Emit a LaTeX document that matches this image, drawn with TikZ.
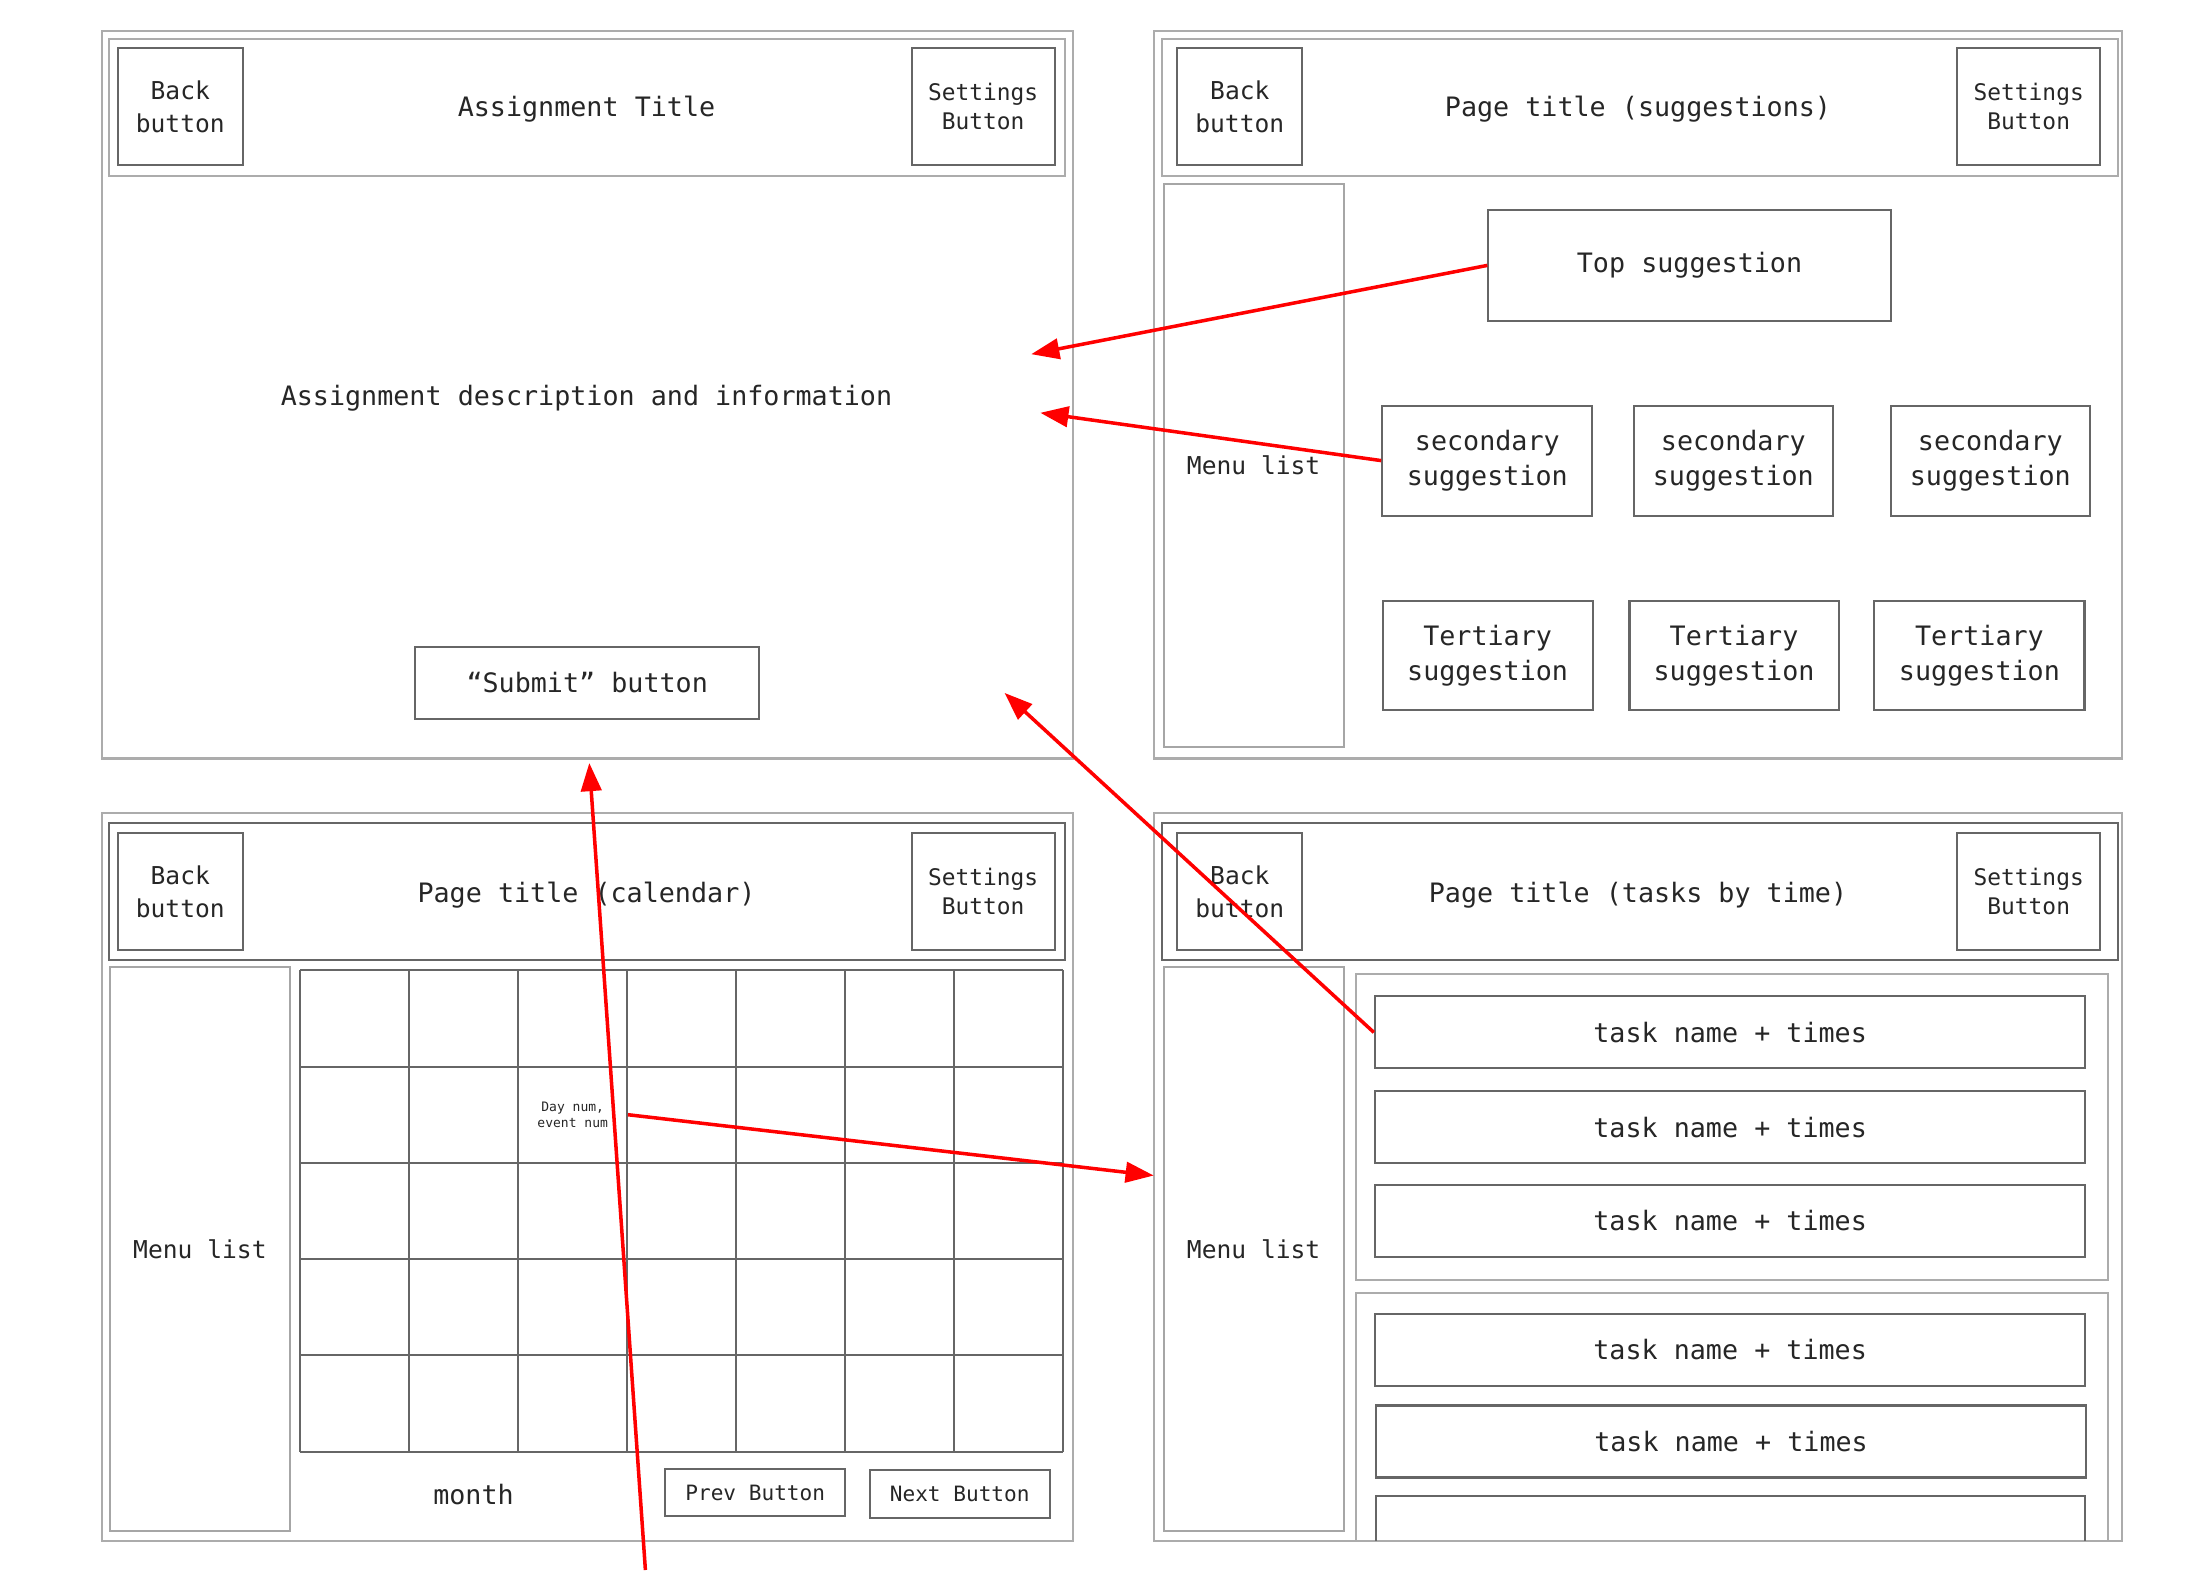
\documentclass[tikz,border=0pt]{standalone}
\usepackage{fontspec}
\setmonofont{DejaVu Sans Mono}
\usepackage{tikz}
\usetikzlibrary{arrows.meta}
\newcommand{\wfmain}{\ttfamily\fontsize{7.6}{9.9}\selectfont}
\newcommand{\wfback}{\ttfamily\fontsize{7.0}{9.4}\selectfont}
\newcommand{\wfsettings}{\ttfamily\fontsize{6.5}{8.2}\selectfont}
\newcommand{\wfbtn}{\ttfamily\fontsize{6.0}{7.5}\selectfont}
\newcommand{\wfday}{\ttfamily\fontsize{3.7}{4.6}\selectfont}
\tikzset{
%Define standard arrow tip
>={Triangle[length=8pt,width=5.8pt]},
%Define styles for screens, boxes and links
screen line/.style={draw=gray!65, line width=0.6pt},
box line/.style={draw=black!60, line width=0.6pt},
ui text/.style={inner sep=0pt, align=center, text=black!85, font=\wfmain},
ui box/.style={ui text, box line},
back box/.style={ui box, font=\wfback, minimum width=1.25cm, minimum height=1.17cm},
settings box/.style={ui box, font=\wfsettings, minimum width=1.43cm, minimum height=1.17cm},
menu box/.style={ui box, draw=gray!70, font=\wfback, minimum width=1.80cm, minimum height=5.63cm},
task box/.style={ui box, minimum width=7.10cm, minimum height=0.72cm},
link/.style={->, red, line width=1pt}, }

\begin{document}
\begin{tikzpicture}[x=0.01cm, y=-0.01cm]
\useasboundingbox (0,0) rectangle (2207,1570);

% Assignment screen
\draw[screen line] (101.7,30.8) rectangle (1073.3,758.5);
\draw[screen line] (108.7,38.8) rectangle (1064.9,175.6);
\node[back box] (backA) at (180.3,106.9) {Back\\button};
\node[settings box] (setA) at (983.2,106.9) {Settings\\Button};
\node[ui text] (titleA) at (586.5,109.4) {Assignment Title};
\node[ui text] (descA) at (586.5,397.9) {Assignment description and information};
\node[ui box, minimum width=3.44cm, minimum height=0.72cm] (submit) at
(587.2,682.7) {“Submit” button};

\path coordinate (inTop) at (1031.2,354.2) coordinate (inSec) at
(1040.3,412.8) coordinate (inTask) at (1004.5,692.9) coordinate
(inCal) at (589.3,763);

% Suggestions screen
\draw[screen line] (1153.7,30.8) rectangle (2122.3,758.5);
\draw[screen line] (1162.1,38.8) rectangle (2118,175.6);
\node[back box] (backB) at (1239.8,106.9) {Back\\button};
\node[settings box] (setB) at (2028.7,106.9) {Settings\\Button};
\node[ui text] (titleB) at (1638,109.4) {Page title (suggestions)};
\node[menu box] (menuB) at (1253.6,465.6) {Menu list};

\node[ui box, minimum width=4.02cm, minimum height=1.11cm] (top) at
(1689.5,265.4) {Top suggestion};
\node[ui box, minimum width=2.10cm, minimum height=1.10cm] (sec1) at
(1487.3,460.6) {secondary\\suggestion};
\node[ui box, minimum width=1.99cm, minimum height=1.10cm] (sec2) at
(1733.3,460.6) {secondary\\suggestion};
\node[ui box, minimum width=1.99cm, minimum height=1.10cm] (sec3) at
(1990.3,460.6) {secondary\\suggestion};
\node[ui box, minimum width=2.10cm, minimum height=1.09cm] (ter1) at
(1487.6,655.6) {Tertiary\\suggestion};
\node[ui box, minimum width=2.09cm, minimum height=1.09cm] (ter2) at
(1734,655.6) {Tertiary\\suggestion};
\node[ui box, minimum width=2.10cm, minimum height=1.09cm] (ter3) at
(1979.4,655.6) {Tertiary\\suggestion};

% Calendar screen
\draw[screen line] (101.7,812.7) rectangle (1073.3,1540.7);
\draw[box line] (108.7,822.8) rectangle (1064.9,960.4);
\node[back box] (backC) at (180.3,891.6) {Back\\button};
\node[settings box] (setC) at (983.2,891.6) {Settings\\Button};
\node[ui text] (titleC) at (586.5,894.9) {Page title (calendar)};
\node[menu box] (menuC) at (199.9,1249) {Menu list};

\foreach \i in {0,...,7}
  \draw[box line] ({300.2+\i*108.94},970.4) -- ({300.2+\i*108.94},1451.6);
\foreach \j in {0,...,5}
  \draw[box line] (300.2,{970.4+\j*96.24}) -- (1062.8,{970.4+\j*96.24});

\node[ui text, font=\wfday, minimum width=1.09cm, minimum height=0.96cm]
(day) at (572.7,1114.7) {Day num,\\event num};
\node[ui text] (month) at (473.5,1494.4) {month};
\node[ui box, font=\wfbtn, minimum width=1.80cm, minimum height=0.47cm]
(prev) at (755.2,1492.9) {Prev Button};
\node[ui box, font=\wfbtn, minimum width=1.80cm, minimum height=0.48cm]
(next) at (959.7,1494.4) {Next Button};

\path coordinate (offCal) at (645.4,1570) coordinate (inTime) at
(1153.7,1175.5);

% Tasks by time screen
\draw[screen line] (1153.7,812.7) rectangle (2122.3,1540.7);
\draw[box line] (1162.1,822.8) rectangle (2118,960.4);
\node[back box] (backD) at (1239.8,891.6) {Back\\button};
\node[settings box] (setD) at (2028.7,891.6) {Settings\\Button};
\node[ui text] (titleD) at (1638,894.9) {Page title (tasks by time)};
\node[menu box] (menuD) at (1253.6,1249) {Menu list};

\draw[screen line] (1355.6,974) rectangle (2108.2,1280.3);
\node[task box] (task1) at (1730.1,1032.4) {task name + times};
\node[task box] (task2) at (1730.1,1127.3) {task name + times};
\node[task box] (task3) at (1730.1,1220.6) {task name + times};
\node[task box] (task4) at (1730.1,1349.8) {task name + times};
\node[task box] (task5) at (1731,1441.5) {task name + times};

      % the list runs on below the screen
      \begin{scope}
\clip (1153.7,812.7) rectangle (2122.3,1540.7);
\draw[screen line] (1355.6,1292.9) rectangle (2108.2,1600);
\draw[box line] (1376.3,1496.4) rectangle (2084.9,1600);
\end{scope}

% Links between the screens
\draw[link] (top.west) -- (inTop);
\draw[link] (sec1.west) -- (inSec);
\draw[link] (task1.west) -- (inTask);
\draw[link] (day.east) -- (inTime);
\draw[link] (offCal) -- (inCal);
\end{tikzpicture}
\end{document}
